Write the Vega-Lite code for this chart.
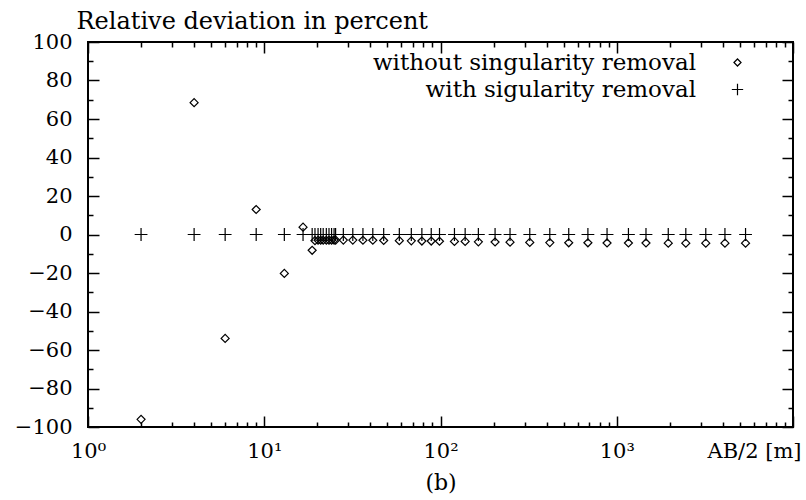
{
  "$schema": "https://vega.github.io/schema/vega-lite/v6.json",
  "width": 705,
  "height": 385,
  "autosize": {"type": "none"},
  "padding": {"left": 88, "top": 42, "right": 13, "bottom": 73},
  "background": "white",
  "config": {
    "view": {"stroke": "black", "strokeWidth": 2},
    "font": "DejaVu Serif",
    "axis": {"grid": false, "domain": false, "tickColor": "black", "tickWidth": 1.5, "labelColor": "black", "labelFont": "DejaVu Serif", "labelFontSize": 21, "titleFont": "DejaVu Serif", "titleFontSize": 24, "titleFontWeight": "normal", "titleColor": "black", "labelFlush": false, "labelOverlap": false, "labelBound": false},
    "legend": {"labelFont": "DejaVu Serif", "labelFontSize": 23, "labelColor": "black", "padding": 0, "labelLimit": 0}
  },
  "data": {"values": [
    {"x": 2, "y": -96, "s": "without singularity removal"},
    {"x": 4, "y": 68.5, "s": "without singularity removal"},
    {"x": 6, "y": -54, "s": "without singularity removal"},
    {"x": 9, "y": 13, "s": "without singularity removal"},
    {"x": 13, "y": -20.2, "s": "without singularity removal"},
    {"x": 16.6, "y": 3.8, "s": "without singularity removal"},
    {"x": 18.7, "y": -8.2, "s": "without singularity removal"},
    {"x": 19.4, "y": -3.2, "s": "without singularity removal"},
    {"x": 20.2, "y": -3.0, "s": "without singularity removal"},
    {"x": 20.9, "y": -3.0, "s": "without singularity removal"},
    {"x": 21.6, "y": -3.0, "s": "without singularity removal"},
    {"x": 22.5, "y": -3.0, "s": "without singularity removal"},
    {"x": 23.3, "y": -3.0, "s": "without singularity removal"},
    {"x": 24.1, "y": -3.0, "s": "without singularity removal"},
    {"x": 24.9, "y": -2.9, "s": "without singularity removal"},
    {"x": 25.4, "y": -2.9, "s": "without singularity removal"},
    {"x": 28.1, "y": -2.9, "s": "without singularity removal"},
    {"x": 31.8, "y": -2.9, "s": "without singularity removal"},
    {"x": 36.3, "y": -3.0, "s": "without singularity removal"},
    {"x": 41.3, "y": -3.0, "s": "without singularity removal"},
    {"x": 47.6, "y": -3.1, "s": "without singularity removal"},
    {"x": 58.4, "y": -3.2, "s": "without singularity removal"},
    {"x": 68.3, "y": -3.3, "s": "without singularity removal"},
    {"x": 78.4, "y": -3.4, "s": "without singularity removal"},
    {"x": 88.6, "y": -3.4, "s": "without singularity removal"},
    {"x": 98.7, "y": -3.5, "s": "without singularity removal"},
    {"x": 120, "y": -3.6, "s": "without singularity removal"},
    {"x": 138, "y": -3.6, "s": "without singularity removal"},
    {"x": 164, "y": -3.8, "s": "without singularity removal"},
    {"x": 204, "y": -3.9, "s": "without singularity removal"},
    {"x": 248, "y": -4.0, "s": "without singularity removal"},
    {"x": 321, "y": -4.1, "s": "without singularity removal"},
    {"x": 417, "y": -4.2, "s": "without singularity removal"},
    {"x": 534, "y": -4.3, "s": "without singularity removal"},
    {"x": 686, "y": -4.3, "s": "without singularity removal"},
    {"x": 881, "y": -4.4, "s": "without singularity removal"},
    {"x": 1165, "y": -4.4, "s": "without singularity removal"},
    {"x": 1465, "y": -4.4, "s": "without singularity removal"},
    {"x": 1960, "y": -4.5, "s": "without singularity removal"},
    {"x": 2465, "y": -4.5, "s": "without singularity removal"},
    {"x": 3200, "y": -4.5, "s": "without singularity removal"},
    {"x": 4110, "y": -4.5, "s": "without singularity removal"},
    {"x": 5380, "y": -4.5, "s": "without singularity removal"},
    {"x": 2, "y": 0, "s": "with sigularity removal"},
    {"x": 4, "y": 0, "s": "with sigularity removal"},
    {"x": 6, "y": 0, "s": "with sigularity removal"},
    {"x": 9, "y": 0, "s": "with sigularity removal"},
    {"x": 13, "y": 0, "s": "with sigularity removal"},
    {"x": 16.6, "y": 0, "s": "with sigularity removal"},
    {"x": 18.7, "y": 0, "s": "with sigularity removal"},
    {"x": 19.4, "y": 0, "s": "with sigularity removal"},
    {"x": 20.2, "y": 0, "s": "with sigularity removal"},
    {"x": 20.9, "y": 0, "s": "with sigularity removal"},
    {"x": 21.6, "y": 0, "s": "with sigularity removal"},
    {"x": 22.5, "y": 0, "s": "with sigularity removal"},
    {"x": 23.3, "y": 0, "s": "with sigularity removal"},
    {"x": 24.1, "y": 0, "s": "with sigularity removal"},
    {"x": 24.9, "y": 0, "s": "with sigularity removal"},
    {"x": 25.4, "y": 0, "s": "with sigularity removal"},
    {"x": 28.1, "y": 0, "s": "with sigularity removal"},
    {"x": 31.8, "y": 0, "s": "with sigularity removal"},
    {"x": 36.3, "y": 0, "s": "with sigularity removal"},
    {"x": 41.3, "y": 0, "s": "with sigularity removal"},
    {"x": 47.6, "y": 0, "s": "with sigularity removal"},
    {"x": 58.4, "y": 0, "s": "with sigularity removal"},
    {"x": 68.3, "y": 0, "s": "with sigularity removal"},
    {"x": 78.4, "y": 0, "s": "with sigularity removal"},
    {"x": 88.6, "y": 0, "s": "with sigularity removal"},
    {"x": 98.7, "y": 0, "s": "with sigularity removal"},
    {"x": 120, "y": 0, "s": "with sigularity removal"},
    {"x": 138, "y": 0, "s": "with sigularity removal"},
    {"x": 164, "y": 0, "s": "with sigularity removal"},
    {"x": 204, "y": 0, "s": "with sigularity removal"},
    {"x": 248, "y": 0, "s": "with sigularity removal"},
    {"x": 321, "y": 0, "s": "with sigularity removal"},
    {"x": 417, "y": 0, "s": "with sigularity removal"},
    {"x": 534, "y": 0, "s": "with sigularity removal"},
    {"x": 686, "y": 0, "s": "with sigularity removal"},
    {"x": 881, "y": 0, "s": "with sigularity removal"},
    {"x": 1165, "y": 0, "s": "with sigularity removal"},
    {"x": 1465, "y": 0, "s": "with sigularity removal"},
    {"x": 1960, "y": 0, "s": "with sigularity removal"},
    {"x": 2465, "y": 0, "s": "with sigularity removal"},
    {"x": 3200, "y": 0, "s": "with sigularity removal"},
    {"x": 4110, "y": 0, "s": "with sigularity removal"},
    {"x": 5380, "y": 0, "s": "with sigularity removal"}
  ]},
  "layer": [
    {
      "mark": {"type": "point", "filled": false, "color": "black", "strokeWidth": 1.2, "opacity": 1, "size": 64},
      "encoding": {
        "x": {"field": "x", "type": "quantitative",
          "scale": {"type": "log", "domain": [1, 10000], "nice": false},
          "axis": {"orient": "bottom", "title": "(b)", "titlePadding": 5, "titleFontSize": 22,
            "values": [1,2,3,4,5,6,7,8,9,10,20,30,40,50,60,70,80,90,100,200,300,400,500,600,700,800,900,1000,2000,3000,4000,5000,6000,7000,8000,9000,10000],
            "labelExpr": "datum.value == 1 ? '10⁰' : datum.value == 10 ? '10¹' : datum.value == 100 ? '10²' : datum.value == 1000 ? '10³' : datum.value == 10000 ? 'AB/2 [m]' : ''",
            "tickSize": {"condition": {"test": "datum.value == 1 || datum.value == 10 || datum.value == 100 || datum.value == 1000 || datum.value == 10000", "value": -11}, "value": -5},
            "labelAlign": {"condition": {"test": "datum.value == 10000", "value": "right"}, "value": "center"},
            "labelOffset": {"condition": {"test": "datum.value == 10000", "value": 8}, "value": 0},
            "labelPadding": 24}},
        "y": {"field": "y", "type": "quantitative",
          "scale": {"domain": [-100, 100], "nice": false},
          "axis": {"orient": "left", "title": "Relative deviation in percent",
            "titleAngle": 0, "titleAlign": "left", "titleBaseline": "alphabetic", "titleX": -12, "titleY": -14,
            "values": [-100,-90,-80,-70,-60,-50,-40,-30,-20,-10,0,10,20,30,40,50,60,70,80,90,100],
            "labelExpr": "datum.value % 20 != 0 ? '' : (datum.value < 0 ? '−' + abs(datum.value) : '' + datum.value)",
            "tickSize": {"condition": {"test": "datum.value % 20 == 0", "value": -11}, "value": -5},
            "labelPadding": 27}},
        "shape": {"field": "s", "type": "nominal",
          "scale": {"domain": ["without singularity removal", "with sigularity removal"], "range": ["diamond", "M-1.6,0H1.6M0,-1.6V1.6"]},
          "legend": {"title": null, "orient": "none", "legendX": 638, "legendY": 9, "labelAlign": "right", "labelOffset": -53, "rowPadding": 3, "symbolSize": 50, "labelLimit": 0, "symbolStrokeColor": "black", "symbolStrokeWidth": 1.2, "symbolFillColor": "transparent"}}
      }
    },
    {
      "mark": {"type": "point", "opacity": 0},
      "encoding": {
        "x": {"field": "x", "type": "quantitative",
          "axis": {"orient": "top", "title": null, "labels": false,
            "values": [1,2,3,4,5,6,7,8,9,10,20,30,40,50,60,70,80,90,100,200,300,400,500,600,700,800,900,1000,2000,3000,4000,5000,6000,7000,8000,9000,10000],
            "tickSize": {"condition": {"test": "datum.value == 1 || datum.value == 10 || datum.value == 100 || datum.value == 1000 || datum.value == 10000", "value": -11}, "value": -5}}},
        "y": {"field": "y", "type": "quantitative",
          "axis": {"orient": "right", "title": null, "labels": false,
            "values": [-100,-90,-80,-70,-60,-50,-40,-30,-20,-10,0,10,20,30,40,50,60,70,80,90,100],
            "tickSize": {"condition": {"test": "datum.value % 20 == 0", "value": -11}, "value": -5}}}
      }
    }
  ],
  "resolve": {"axis": {"x": "independent", "y": "independent"}}
}
